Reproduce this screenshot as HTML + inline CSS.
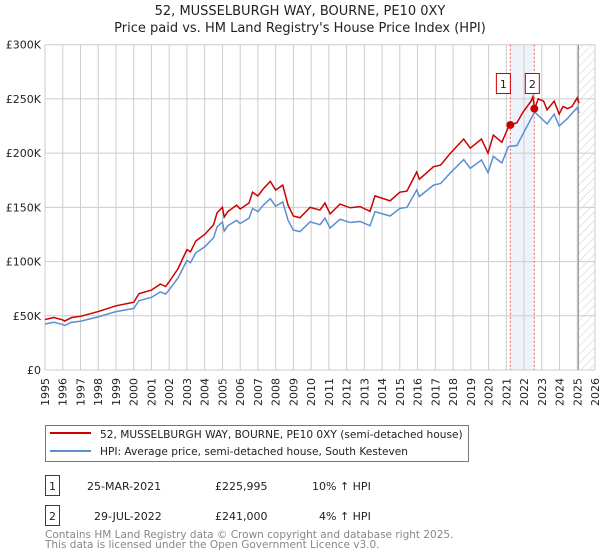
<!DOCTYPE html>
<html><head><meta charset="utf-8">
<style>
body{margin:0;background:#fff;font-family:"Liberation Sans","DejaVu Sans",sans-serif;}
svg{display:block}
text{font-family:"DejaVu Sans","Liberation Sans",sans-serif;}
</style></head>
<body>
<svg id="chart" width="600" height="560" viewBox="0 0 600 560">
<defs>
<pattern id="hatch" patternUnits="userSpaceOnUse" width="6" height="6" patternTransform="rotate(45)">
<line x1="0" y1="0" x2="0" y2="6" stroke="#ccc" stroke-width="1"/>
</pattern>
</defs>
<text x="300" y="15" text-anchor="middle" font-size="13" fill="#222">52, MUSSELBURGH WAY, BOURNE, PE10 0XY</text>
<text x="300" y="32" text-anchor="middle" font-size="13" fill="#222">Price paid vs. HM Land Registry's House Price Index (HPI)</text>
<g id="grid"></g>
<g id="marks"></g>
<g id="axes"></g>
<g>
<rect x="45.5" y="425.5" width="423" height="36" fill="#fff" stroke="#777"/>
<line x1="50" y1="433" x2="91" y2="433" stroke="#cc0000" stroke-width="2"/>
<text x="100" y="438" font-size="10.6" fill="#222">52, MUSSELBURGH WAY, BOURNE, PE10 0XY (semi-detached house)</text>
<line x1="50" y1="451" x2="91" y2="451" stroke="#5b8fd0" stroke-width="2"/>
<text x="100" y="455" font-size="10.6" fill="#222">HPI: Average price, semi-detached house, South Kesteven</text>
</g>
<g>
<rect x="45.5" y="475.5" width="14" height="20" fill="#fff" stroke="#cc0000"/>
<text x="52.5" y="490" text-anchor="middle" font-size="11" fill="#222">1</text>
<text x="87" y="490" font-size="11" fill="#222">25-MAR-2021</text>
<text x="215" y="490" font-size="11" fill="#222">£225,995</text>
<text x="312" y="490" font-size="11" fill="#222">10% ↑ HPI</text>
</g>
<g>
<rect x="45.5" y="505.5" width="14" height="20" fill="#fff" stroke="#cc0000"/>
<text x="52.5" y="520" text-anchor="middle" font-size="11" fill="#222">2</text>
<text x="94" y="520" font-size="11" fill="#222">29-JUL-2022</text>
<text x="215" y="520" font-size="11" fill="#222">£241,000</text>
<text x="319" y="520" font-size="11" fill="#222">4% ↑ HPI</text>
</g>
<text x="45" y="538" font-size="10.5" fill="#888">Contains HM Land Registry data © Crown copyright and database right 2025.</text>
<text x="45" y="548" font-size="10.5" fill="#888">This data is licensed under the Open Government Licence v3.0.</text>
</svg>
<script>
const hpiYears=[1995,1995.5,1996,1996.1,1996.5,1997,1998,1999,2000,2000.3,2001,2001.5,2001.8,2002,2002.5,2003,2003.2,2003.5,2004,2004.5,2004.7,2005,2005.1,2005.3,2005.8,2006,2006.5,2006.7,2007,2007.3,2007.7,2008,2008.4,2008.7,2009,2009.37,2009.94,2010.5,2010.78,2011.07,2011.63,2012.2,2012.76,2013.32,2013.6,2014.45,2015,2015.4,2015.95,2016.1,2016.9,2017.3,2017.83,2018.6,2018.97,2019.6,2019.97,2020.27,2020.75,2021.12,2021.6,2021.95,2022.6,2023.3,2023.7,2023.98,2024.45,2025,2025.1];
const hpiValues=[42400,44000,42000,41000,44000,45000,49000,53800,56800,64000,67000,72000,70000,74000,85000,101000,99000,108000,113500,122000,132000,136500,128000,133000,138000,135000,140000,149000,146000,152000,158000,151000,155000,138000,129000,127600,136600,134000,140000,131000,139000,136000,137000,133000,146000,142000,149000,150000,166000,160000,170500,172000,181500,194000,186000,193700,182000,197000,191000,206000,207000,218000,238000,227000,236000,225000,232000,242000,237000];
const redYears=[1995,1995.5,1996,1996.1,1996.5,1997,1998,1999,2000,2000.3,2001,2001.5,2001.8,2002,2002.5,2003,2003.2,2003.5,2004,2004.5,2004.7,2005,2005.1,2005.3,2005.8,2006,2006.5,2006.7,2007,2007.3,2007.7,2008,2008.4,2008.7,2009,2009.37,2009.94,2010.5,2010.78,2011.07,2011.63,2012.2,2012.76,2013.32,2013.6,2014.45,2015,2015.4,2015.95,2016.1,2016.9,2017.3,2017.83,2018.6,2018.97,2019.6,2019.97,2020.27,2020.75,2021.12,2021.23,2021.6,2021.95,2022.4,2022.5,2022.6,2022.8,2023.1,2023.3,2023.7,2023.98,2024.2,2024.45,2024.7,2025,2025.1];
const redValues=[46600,48400,46200,45100,48400,49500,53900,59200,62500,70400,73700,79200,77000,81400,93500,111000,109000,119000,125000,134000,145000,150000,141000,146000,152000,148500,154000,164000,160500,167000,174000,166000,170500,152000,142000,140400,150000,147500,154000,144000,153000,149600,150700,146300,160600,156000,164000,165000,182600,176000,187500,189000,199600,213000,204600,213000,200000,216700,210000,224000,225995,228000,238000,248000,252000,241000,250000,248000,240000,248000,236000,243000,241000,243000,251000,246000];
const yTicks=[0,50000,100000,150000,200000,250000,300000];
const yTickLabels=["£0","£50K","£100K","£150K","£200K","£250K","£300K"];
const xTickYears=[1995,1996,1997,1998,1999,2000,2001,2002,2003,2004,2005,2006,2007,2008,2009,2010,2011,2012,2013,2014,2015,2016,2017,2018,2019,2020,2021,2022,2023,2024,2025,2026];
const saleYears=[2021.23,2022.58];
const salePrices=[225995,241000];
const saleLabels=["1","2"];
const forecastStart=2025.06;

const NS="http://www.w3.org/2000/svg";
const L=45,R=595,T=44.7,B=370;
const x=v=>L+(v-1995)/(2026-1995)*(R-L);
const y=v=>B-v/300000*(B-T);
function mk(tag,attrs,parent){const e=document.createElementNS(NS,tag);for(const k in attrs)e.setAttribute(k,attrs[k]);parent.appendChild(e);return e;}
const grid=document.getElementById('grid'),marks=document.getElementById('marks'),axes=document.getElementById('axes');

const band=mk('rect',{x:x(saleYears[0]),y:T,width:x(saleYears[1])-x(saleYears[0]),height:B-T,fill:'#eef3fb'},grid);


const hatch=mk('rect',{x:x(forecastStart),y:T,width:R-x(forecastStart),height:B-T,fill:'url(#hatch)'},grid);



xTickYears.forEach(yr=>{
 const g=mk('line',{x1:x(yr),x2:x(yr),y1:T,y2:B,stroke:'#ccc','stroke-width':1},grid);
 
 
 const t=mk('text',{x:0,y:0,'font-size':11,fill:'#222','text-anchor':'end',transform:`translate(${x(yr)+4},${B+8}) rotate(-90)`},axes);
 t.textContent=yr;
 
 
});
yTicks.forEach((v,i)=>{
 const g=mk('line',{x1:L,x2:R,y1:y(v),y2:y(v),stroke:'#ccc','stroke-width':1},grid);
 
 
 const t=mk('text',{x:L-4,y:y(v)+4,'font-size':11,fill:'#222','text-anchor':'end'},axes);
 t.textContent=yTickLabels[i];
 
 
});
const nowLine=mk('line',{x1:x(forecastStart),x2:x(forecastStart),y1:T,y2:B,stroke:'#888','stroke-width':1},grid);



saleYears.forEach((yr,i)=>{
 const d=mk('line',{x1:x(yr),x2:x(yr),y1:T,y2:B,stroke:'#f06060','stroke-width':1,'stroke-dasharray':'2,2'},marks);
 
 
});

const hp=mk('polyline',{points:hpiYears.map((yr,i)=>x(yr)+','+y(hpiValues[i])).join(' '),fill:'none',stroke:'#5b8fd0','stroke-width':1.5},marks);


const rp=mk('polyline',{points:redYears.map((yr,i)=>x(yr)+','+y(redValues[i])).join(' '),fill:'none',stroke:'#cc0000','stroke-width':1.5},marks);



saleYears.forEach((yr,i)=>{
 const c=mk('circle',{cx:x(yr),cy:y(salePrices[i]),r:4,fill:'#cc0000'},marks);
 
 
 const r=mk('rect',{x:x(yr)+(i===0?-14:-9),y:73.5,width:14,height:20,fill:'#fff',stroke:'#cc0000'},marks);
 
 
 const t=mk('text',{x:x(yr)+(i===0?-7:-2),y:88,'font-size':11,fill:'#222','text-anchor':'middle'},marks);
 t.textContent=saleLabels[i];
 
 
});
</script>
</body></html>
